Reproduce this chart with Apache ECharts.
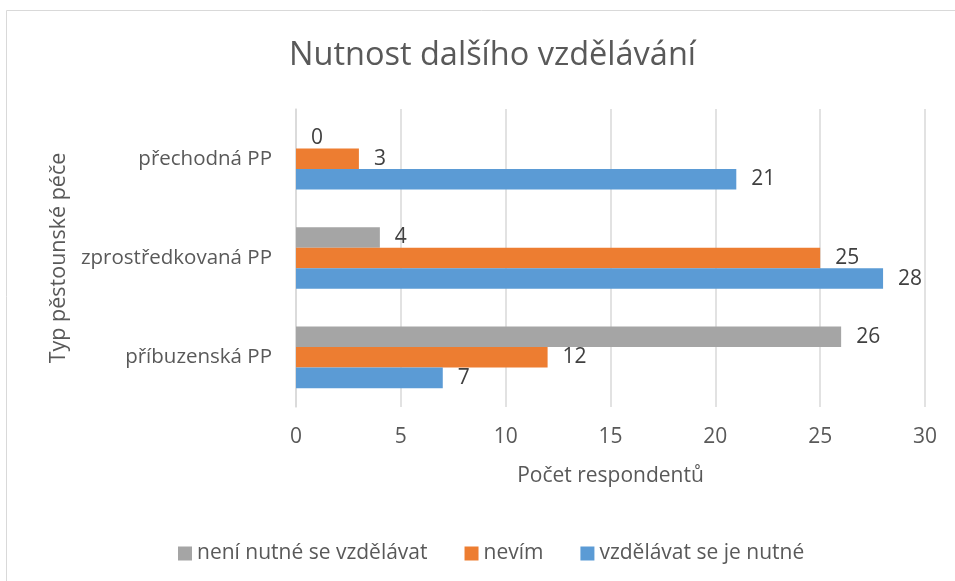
<!DOCTYPE html>
<html>
<head>
<meta charset="utf-8">
<script src="https://cdn.jsdelivr.net/npm/echarts@6/dist/echarts.min.js"></script>
<style>
  html, body { margin: 0; padding: 0; background: #fff; }
  #chart { width: 955px; height: 581px; }
</style>
</head>
<body>
<div id="chart"></div>
<script>
const categories = ['příbuzenská PP', 'zprostředkovaná PP', 'přechodná PP'];
const nutne = [7, 28, 21];
const nevim = [12, 25, 3];
const neniNutne = [26, 4, 0];
const xTicks = { min: 0, max: 30, interval: 5 };

const font = 'Open Sans';
const textColor = '#595959';

const chart = echarts.init(document.getElementById('chart'));

const barLabel = {
  show: true,
  position: 'right',
  distance: 15,
  color: '#404040',
  fontFamily: font,
  fontSize: 21
};

const option = {
  animation: false,
  title: {
    text: 'Nutnost dalšího vzdělávání',
    left: 284,
    top: 34,
    textStyle: {
      fontFamily: font,
      fontWeight: 'normal',
      fontSize: 32.5,
      color: textColor
    }
  },
  graphic: [{
    type: 'rect',
    shape: { x: 6.5, y: 10.5, width: 1000, height: 1000 },
    style: { fill: 'none', stroke: '#D9D9D9', lineWidth: 1 },
    silent: true
  }],
  legend: {
    data: ['není nutné se vzdělávat', 'nevím', 'vzdělávat se je nutné'],
    left: 173,
    top: 538,
    itemWidth: 14,
    itemHeight: 14,
    itemGap: 37,
    icon: 'rect',
    textStyle: {
      fontFamily: font,
      fontSize: 21,
      color: textColor
    }
  },
  grid: {
    left: 296,
    right: 30,
    top: 109,
    bottom: 174,
    containLabel: false
  },
  xAxis: {
    type: 'value',
    min: xTicks.min,
    max: xTicks.max,
    interval: xTicks.interval,
    name: 'Počet respondentů',
    nameLocation: 'middle',
    nameGap: 59,
    nameTextStyle: {
      fontFamily: font,
      fontSize: 21,
      color: textColor
    },
    axisLine: { show: false },
    axisTick: { show: false },
    axisLabel: {
      fontFamily: font,
      fontSize: 21,
      color: textColor,
      margin: 20
    },
    splitLine: { lineStyle: { color: '#D9D9D9', width: 1.5 } }
  },
  yAxis: {
    type: 'category',
    data: categories,
    name: 'Typ pěstounské péče',
    nameLocation: 'middle',
    nameGap: 226,
    nameRotate: 90,
    nameTextStyle: {
      fontFamily: font,
      fontSize: 21.5,
      color: textColor
    },
    axisLine: { show: true, lineStyle: { color: '#D9D9D9', width: 1.5 } },
    axisTick: { show: false },
    axisLabel: {
      fontFamily: font,
      fontSize: 20.5,
      color: textColor,
      margin: 24
    }
  },
  series: [
    {
      name: 'není nutné se vzdělávat',
      type: 'bar',
      data: neniNutne,
      itemStyle: { color: '#A5A5A5' },
      barGap: '0%',
      barCategoryGap: '38%',
      label: barLabel
    },
    {
      name: 'nevím',
      type: 'bar',
      data: nevim,
      itemStyle: { color: '#ED7D31' },
      barGap: '0%',
      barCategoryGap: '38%',
      label: barLabel
    },
    {
      name: 'vzdělávat se je nutné',
      type: 'bar',
      data: nutne,
      itemStyle: { color: '#5B9BD5' },
      barGap: '0%',
      barCategoryGap: '38%',
      label: barLabel
    }
  ]
};

chart.setOption(option);
</script>
</body>
</html>
